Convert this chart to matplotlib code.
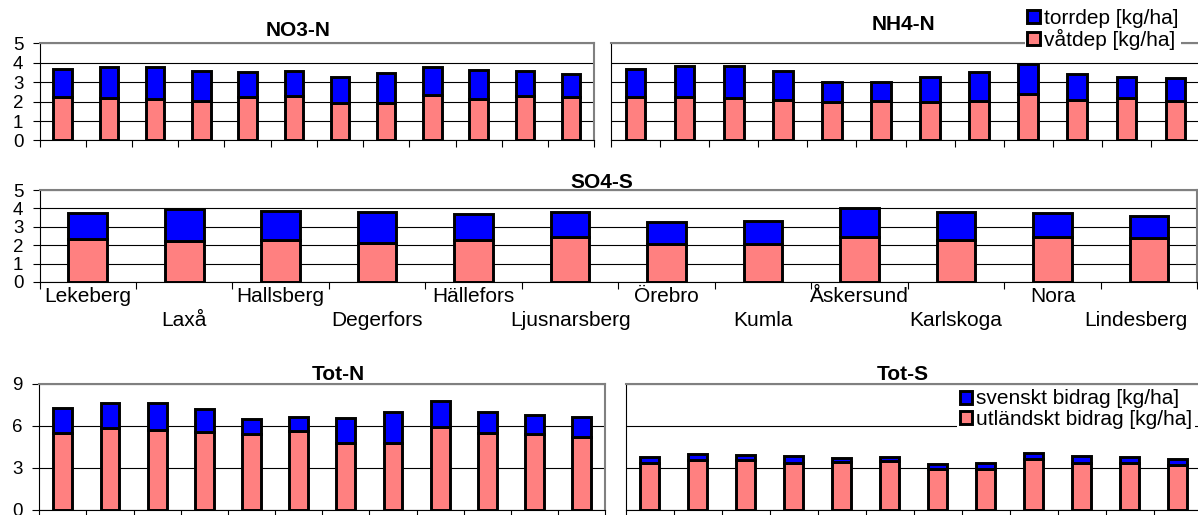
import matplotlib
matplotlib.use("Agg")
import matplotlib.pyplot as plt
from matplotlib.patches import Patch

plt.rcParams["font.family"] = ["Liberation Sans", "DejaVu Sans"]

W, H = 1198, 515

kommuner = ["Lekeberg", "Laxå", "Hallsberg", "Degerfors", "Hällefors",
            "Ljusnarsberg", "Örebro", "Kumla", "Åskersund", "Karlskoga",
            "Nora", "Lindesberg"]

# deposition per kommun [kg/ha]
no3_vat = [2.22, 2.21, 2.16, 2.05, 2.24, 2.31, 1.95, 1.95, 2.36, 2.16, 2.29, 2.22]
no3_torr = [1.45, 1.58, 1.63, 1.55, 1.28, 1.29, 1.33, 1.52, 1.45, 1.48, 1.28, 1.23]

nh4_vat = [2.24, 2.24, 2.17, 2.10, 1.98, 2.03, 1.98, 2.05, 2.41, 2.07, 2.17, 2.05]
nh4_torr = [1.45, 1.62, 1.69, 1.49, 1.05, 1.00, 1.31, 1.50, 1.54, 1.34, 1.11, 1.16]

so4_vat = [2.31, 2.24, 2.28, 2.13, 2.30, 2.44, 2.07, 2.07, 2.46, 2.26, 2.43, 2.37]
so4_torr = [1.45, 1.72, 1.59, 1.70, 1.40, 1.36, 1.21, 1.23, 1.56, 1.57, 1.31, 1.22]

totn_utl = [5.51, 5.87, 5.70, 5.54, 5.44, 5.61, 4.76, 4.81, 5.94, 5.51, 5.44, 5.18]
totn_sv = [1.80, 1.79, 1.94, 1.65, 1.09, 1.01, 1.82, 2.17, 1.81, 1.51, 1.35, 1.44]

tots_utl = [3.35, 3.58, 3.54, 3.35, 3.40, 3.49, 2.92, 2.92, 3.63, 3.37, 3.35, 3.23]
tots_sv = [0.42, 0.43, 0.40, 0.54, 0.35, 0.33, 0.38, 0.41, 0.43, 0.52, 0.45, 0.40]

BLUE = "#0000FF"
PINK = "#FF8080"
FRAME = "#808080"
TICK_FS = 13.5
CAT_FS = 15
LEG_FS = 15
TITLE_FS = 15
EDGE_LW = 2.1

fig = plt.figure(figsize=(W / 100, H / 100), dpi=100)


def px_axes(x0, x1, ytop, ybot):
    return fig.add_axes([x0 / W, 1 - ybot / H, (x1 - x0) / W, (ybot - ytop) / H])


def panel(ax, low, high, ymax, ystep, show_ylabels, bar_w=0.4):
    n = len(low)
    xs = [i + 0.5 for i in range(n)]
    ax.bar(xs, low, width=bar_w, color=PINK, edgecolor="black",
           linewidth=EDGE_LW, zorder=3)
    ax.bar(xs, high, bottom=low, width=bar_w, color=BLUE, edgecolor="black",
           linewidth=EDGE_LW, zorder=3)
    ax.set_xlim(0, n)
    ax.set_ylim(0, ymax)
    ax.set_xticks(range(n + 1))
    ax.set_xticklabels([])
    ax.set_yticks(range(0, ymax + 1, ystep))
    ax.yaxis.grid(True, color="black", linewidth=0.8)
    ax.set_axisbelow(True)
    ax.tick_params(axis="x", direction="out", length=4.7, width=0.8, color="black")
    if show_ylabels:
        ax.tick_params(axis="y", direction="out", length=4.7, width=0.8, pad=7,
                       labelsize=TICK_FS)
    else:
        ax.tick_params(axis="y", length=0, labelleft=False)
    for s in ("top", "right"):
        ax.spines[s].set_color(FRAME)
        ax.spines[s].set_linewidth(1.5)
    for s in ("left", "bottom"):
        ax.spines[s].set_color("black")
        ax.spines[s].set_linewidth(0.8)
    ax.set_facecolor("white")


ax_no3 = px_axes(39.5, 594.3, 43.5, 140.5)
panel(ax_no3, no3_vat, no3_torr, 5, 1, True)

ax_nh4 = px_axes(611, 1200, 43.5, 140.5)
panel(ax_nh4, nh4_vat, nh4_torr, 5, 1, False)

ax_so4 = px_axes(39.5, 1197.3, 190, 282)
panel(ax_so4, so4_vat, so4_torr, 5, 1, True)

ax_totn = px_axes(39.2, 605.3, 384, 510)
panel(ax_totn, totn_utl, totn_sv, 9, 3, True)

ax_tots = px_axes(625.7, 1201.7, 384, 510)
panel(ax_tots, tots_utl, tots_sv, 9, 3, False)

# staggered kommun names under the SO4-S panel, kept inside the figure
fig.canvas.draw()
renderer = fig.canvas.get_renderer()
right_limit = W - 11
for i, name in enumerate(kommuner):
    off = -10.5 if i % 2 == 0 else -27.5
    t = ax_so4.annotate(name, xy=(i + 0.5, 0), xycoords=("data", "axes fraction"),
                        xytext=(0, off), textcoords="offset points",
                        ha="center", va="center", fontsize=CAT_FS)
    bb = t.get_window_extent(renderer)
    if bb.x1 > right_limit:
        shift_pt = (bb.x1 - right_limit) * 72 / fig.dpi
        t.set_position((-shift_pt, off))


def title(txt, x, y):
    fig.text(x / W, 1 - y / H, txt, ha="center", va="center",
             fontsize=TITLE_FS, fontweight="bold")


title("NO3-N", 298, 30)
title("NH4-N", 903, 24)
title("SO4-S", 602, 183)
title("Tot-N", 338, 374)
title("Tot-S", 903, 374)


def legend(labels, x_right, y_top):
    handles = [Patch(facecolor=BLUE, edgecolor="black", linewidth=EDGE_LW),
               Patch(facecolor=PINK, edgecolor="black", linewidth=EDGE_LW)]
    lg = fig.legend(handles, labels, loc="upper right",
                    bbox_to_anchor=(x_right / W, 1 - y_top / H),
                    frameon=True, fancybox=False, facecolor="white",
                    edgecolor="none", framealpha=1, fontsize=LEG_FS,
                    handlelength=0.6, handleheight=0.6, handletextpad=0.2,
                    labelspacing=0.05, borderpad=0.12, borderaxespad=0)
    lg.get_frame().set_linewidth(0)
    return lg


legend(["torrdep [kg/ha]", "våtdep [kg/ha]"], 1181, 6)
legend(["svenskt bidrag [kg/ha]", "utländskt bidrag [kg/ha]"], 1195, 387)

fig.savefig("out.png", dpi=100, facecolor="white")
